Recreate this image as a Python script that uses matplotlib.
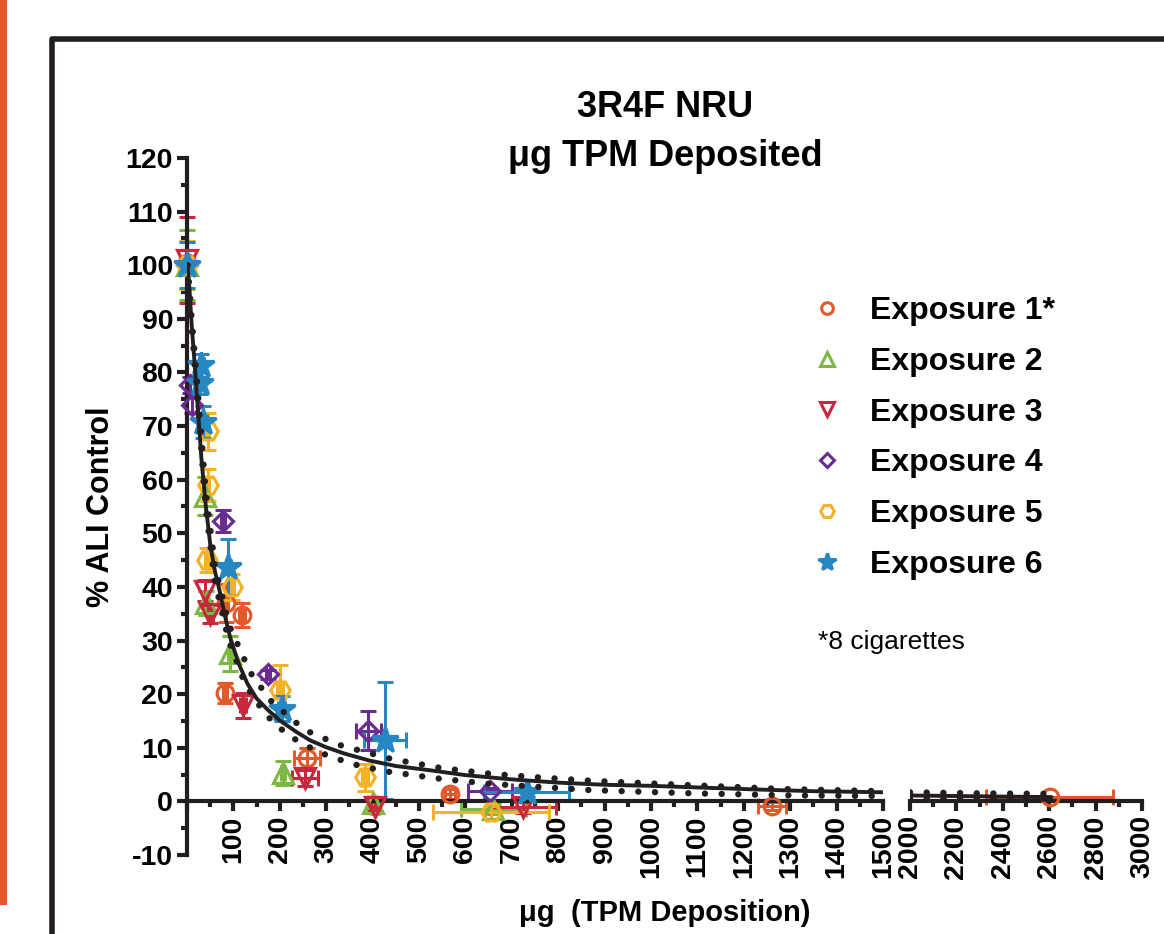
import numpy as np
import matplotlib.pyplot as plt
from matplotlib.lines import Line2D
from matplotlib.patches import Rectangle
from matplotlib.ticker import MultipleLocator, FuncFormatter

plt.rcParams['font.family'] = ['Liberation Sans', 'DejaVu Sans']
plt.rcParams['axes.unicode_minus'] = False

# ---- data ----
labels = ['Exposure 1*', 'Exposure 2', 'Exposure 3', 'Exposure 4', 'Exposure 5', 'Exposure 6']

e1_x = [0, 85, 118, 82, 258, 567, 1260, 2603]
e1_y = [100.5, 37, 34.8, 20.2, 8.0, 1.4, -0.9, 0.8]
e1_xerr = [0, 4, 6, 5, 28, 10, 30, 274]
e1_yerr = [2.4, 3.5, 2.2, 1.8, 1.9, 1.0, 0.8, 0]

e2_x = [0, 38, 40, 93, 207, 400, 660]
e2_y = [100, 57, 37, 27.6, 5.3, -0.3, -1.4]
e2_xerr = [0, 0, 4, 5, 5, 10, 70]
e2_yerr = [6.5, 3.5, 2.2, 3.3, 2.3, 1.2, 1.0]

e3_x = [0, 38, 50, 121, 254, 405, 725]
e3_y = [101, 39.3, 35, 17.9, 4.3, -1.0, -1.1]
e3_xerr = [0, 0, 5, 6, 28, 8, 71]
e3_yerr = [8, 2, 1.7, 2.3, 1.5, 0.8, 1.0]

e4_x = [0, 6, 10, 78, 175, 391, 653]
e4_y = [100, 77.6, 74, 52.3, 23.7, 13.2, 2.0]
e4_xerr = [0, 0, 0, 4, 4, 27, 48]
e4_yerr = [1.5, 1.5, 1.5, 2.0, 0.8, 3.7, 0.5]

e5_x = [0, 45, 45, 43, 96, 200, 384, 656]
e5_y = [100, 69, 59, 45, 40, 20.7, 4.5, -2.0]
e5_xerr = [0, 3, 3, 4, 5, 6, 6, 125]
e5_yerr = [4.5, 3.5, 3, 2.2, 2.5, 4.7, 2.5, 1.2]

e6_x = [0, 31, 28, 35, 89, 204, 427, 732]
e6_y = [100, 81.3, 78, 70.7, 43.7, 17.3, 11.4, 1.7]
e6_xerr = [0, 5, 5, 8, 5, 8, 45, 92]
e6_yerr = [4.3, 2.2, 2, 3, 5.2, 2.3, 10.9, 0]

# fitted curve and 95% band
fit_x = [1, 5, 10, 17, 24, 31, 40, 50, 60, 71, 82, 93, 110, 130, 150, 175, 200, 235, 265, 300,
         340, 394, 450, 524, 600, 700, 800, 900, 1000, 1100, 1235, 1350, 1500,
         2000, 2200, 2400, 2610]
fit_y = [100, 96, 89, 81, 72.5, 64, 55.5, 48, 43, 39, 34.5, 30.6, 26, 22, 19.2, 17, 15.1, 13, 11.4, 10.1,
         8.9, 7.6, 6.6, 5.8, 4.9, 4.1, 3.5, 3.1, 2.9, 2.6, 2.2, 1.9, 1.7,
         1.1, 1.0, 0.9, 0.8]

hi_x = [1, 10, 20, 40, 60, 90, 136, 179, 233, 265, 297, 333, 441, 549, 660, 770, 881, 1066, 1289, 1500,
        2000, 2300, 2610]
hi_y = [100, 90, 80, 58, 44, 33, 24.1, 18.9, 14.8, 12.9, 11.7, 10.4, 7.9, 6.2, 5.1, 4.4, 3.8, 3.1, 2.3, 1.9,
        1.7, 1.5, 1.4]

lo_x = [1, 10, 20, 40, 60, 90, 125, 168, 218, 283, 355, 428, 538, 649, 759, 870, 1091, 1314, 1500,
        2000, 2300, 2610]
lo_y = [100, 88.5, 78.5, 55, 41, 30, 21.9, 16.3, 12.3, 9.2, 7.0, 5.6, 4.3, 3.3, 2.7, 2.1, 1.5, 1.1, 1.0,
        0.6, 0.5, 0.5]

series = [
    (e1_x, e1_y, e1_xerr, e1_yerr, 'o', '#E2592B', 12),
    (e2_x, e2_y, e2_xerr, e2_yerr, '^', '#7DB842', 15),
    (e3_x, e3_y, e3_xerr, e3_yerr, 'v', '#C8283E', 15),
    (e4_x, e4_y, e4_xerr, e4_yerr, 'D', '#6A2C91', 10.5),
    (e5_x, e5_y, e5_xerr, e5_yerr, 'H', '#F4B225', 14),
    (e6_x, e6_y, e6_xerr, e6_yerr, '*', '#2787C2', 19),
]

ink = '#231F20'

fig = plt.figure(figsize=(11.64, 9.34), dpi=100)
W, H = 1164, 934
bot = (H - 855) / H
hgt = 697 / H
ax1 = fig.add_axes([187 / W, bot, 696 / W, hgt])
ax2 = fig.add_axes([910 / W, bot, 232 / W, hgt], sharey=ax1)

ax1.set_xlim(0, 1500)
ax2.set_xlim(2000, 3000)
ax1.set_ylim(-10, 120)


def unclip(container):
    for art in container.get_children():
        art.set_clip_on(False)


for ax, lo, hi in [(ax1, -1, 1500), (ax2, 2000, 3000)]:
    for x, y, xe, ye, mk, col, ms in series:
        x = np.array(x, float)
        y = np.array(y, float)
        xe = np.array(xe, float)
        ye = np.array(ye, float)
        m = (x >= lo) & (x <= hi)
        mv = m & (ye > 0)
        if mv.any():
            c = ax.errorbar(x[mv], y[mv], yerr=ye[mv], fmt='none', ecolor=col, elinewidth=2.2,
                            capsize=6, capthick=2.2, zorder=2)
            unclip(c)
        mh = m & (xe > 0)
        if mh.any():
            c = ax.errorbar(x[mh], y[mh], xerr=xe[mh], fmt='none', ecolor=col, elinewidth=2.2,
                            capsize=6, capthick=2.2, zorder=2)
            unclip(c)
        face = col if mk == '*' else 'none'
        ax.plot(x[m], y[m], linestyle='none', marker=mk, ms=ms, mfc=face, mec=col, mew=2.3,
                zorder=3, clip_on=False)

    fx = np.array(fit_x, float)
    fy = np.array(fit_y, float)
    m = (fx >= lo) & (fx <= hi)
    ax.plot(fx[m], fy[m], color=ink, lw=2.8, zorder=5, solid_capstyle='round')
    for bx, by in [(hi_x, hi_y), (lo_x, lo_y)]:
        bx = np.array(bx, float)
        by = np.array(by, float)
        m = (bx >= lo) & (bx <= hi)
        ax.plot(bx[m], by[m], color=ink, lw=4.6, linestyle=(0, (0.01, 2.6)),
                dash_capstyle='round', zorder=5)

# ---- axes styling ----
for ax in (ax1, ax2):
    ax.spines['top'].set_visible(False)
    ax.spines['right'].set_visible(False)
    ax.spines['bottom'].set_position(('data', 0))
    ax.spines['bottom'].set_linewidth(3)
    ax.spines['bottom'].set_color(ink)
    ax.patch.set_alpha(0)
    ax.tick_params(axis='x', which='major', length=7, width=3, color=ink, pad=3,
                   labelsize=20.5, labelrotation=90)
    ax.tick_params(axis='x', which='minor', length=4, width=3, color=ink)

ax1.spines['left'].set_linewidth(3)
ax1.spines['left'].set_color(ink)
ax2.spines['left'].set_visible(False)
ax2.tick_params(axis='y', which='both', left=False, labelleft=False)

ax1.xaxis.set_major_locator(MultipleLocator(100))
ax1.xaxis.set_minor_locator(MultipleLocator(50))
ax2.xaxis.set_major_locator(MultipleLocator(200))
ax2.xaxis.set_minor_locator(MultipleLocator(100))
ax1.xaxis.set_major_formatter(FuncFormatter(lambda v, p: '' if v == 0 else '%d' % v))
ax2.xaxis.set_major_formatter(FuncFormatter(lambda v, p: '%d' % v))

ax1.yaxis.set_major_locator(MultipleLocator(10))
ax1.yaxis.set_minor_locator(MultipleLocator(5))
ax1.yaxis.set_major_formatter(FuncFormatter(lambda v, p: '%d' % v))
ax1.tick_params(axis='y', which='major', length=7, width=3, color=ink, pad=3, labelsize=20.5)
ax1.tick_params(axis='y', which='minor', length=4, width=3, color=ink)

for ax in (ax1, ax2):
    for t in ax.get_xticklabels() + ax.get_yticklabels():
        t.set_fontweight('bold')

# ---- legend ----
handles = []
for x, y, xe, ye, mk, col, ms in series:
    face = col if mk == '*' else 'none'
    handles.append(Line2D([], [], linestyle='none', marker=mk, ms=ms * 0.7, mfc=face, mec=col, mew=2.2))
leg = fig.legend(handles, labels, loc='upper left', bbox_to_anchor=(811 / W, 1 - 296 / H),
                 frameon=False, borderpad=0, borderaxespad=0, handlelength=1.0,
                 handletextpad=0.85, labelspacing=0.65,
                 prop={'size': 23, 'weight': 'bold'})

# ---- texts ----
fig.text(665 / W, 1 - 117 / H, '3R4F NRU', ha='center', va='baseline', fontsize=26, fontweight='bold')
fig.text(665 / W, 1 - 166 / H, 'μg TPM Deposited', ha='center', va='baseline', fontsize=26, fontweight='bold')
fig.text(101 / W, 1 - 507 / H, '% ALI Control', rotation=90, ha='center', va='center',
         fontsize=22, fontweight='bold')
fig.text(665 / W, 1 - 921 / H, 'μg  (TPM Deposition)', ha='center', va='baseline',
         fontsize=21, fontweight='bold')
fig.text(818 / W, 1 - 649 / H, '*8 cigarettes', ha='left', va='baseline', fontsize=19)

# ---- page frame ----
fig.add_artist(Line2D([52 / W, 52 / W, 1.01], [-0.01, 1 - 39 / H, 1 - 39 / H],
                      transform=fig.transFigure, color=ink, lw=4))
fig.add_artist(Rectangle((0, 1 - 905 / H), 7 / W, 905 / H, transform=fig.transFigure,
                         facecolor='#E2592B', edgecolor='none'))

fig.savefig('out.png', dpi=100)
